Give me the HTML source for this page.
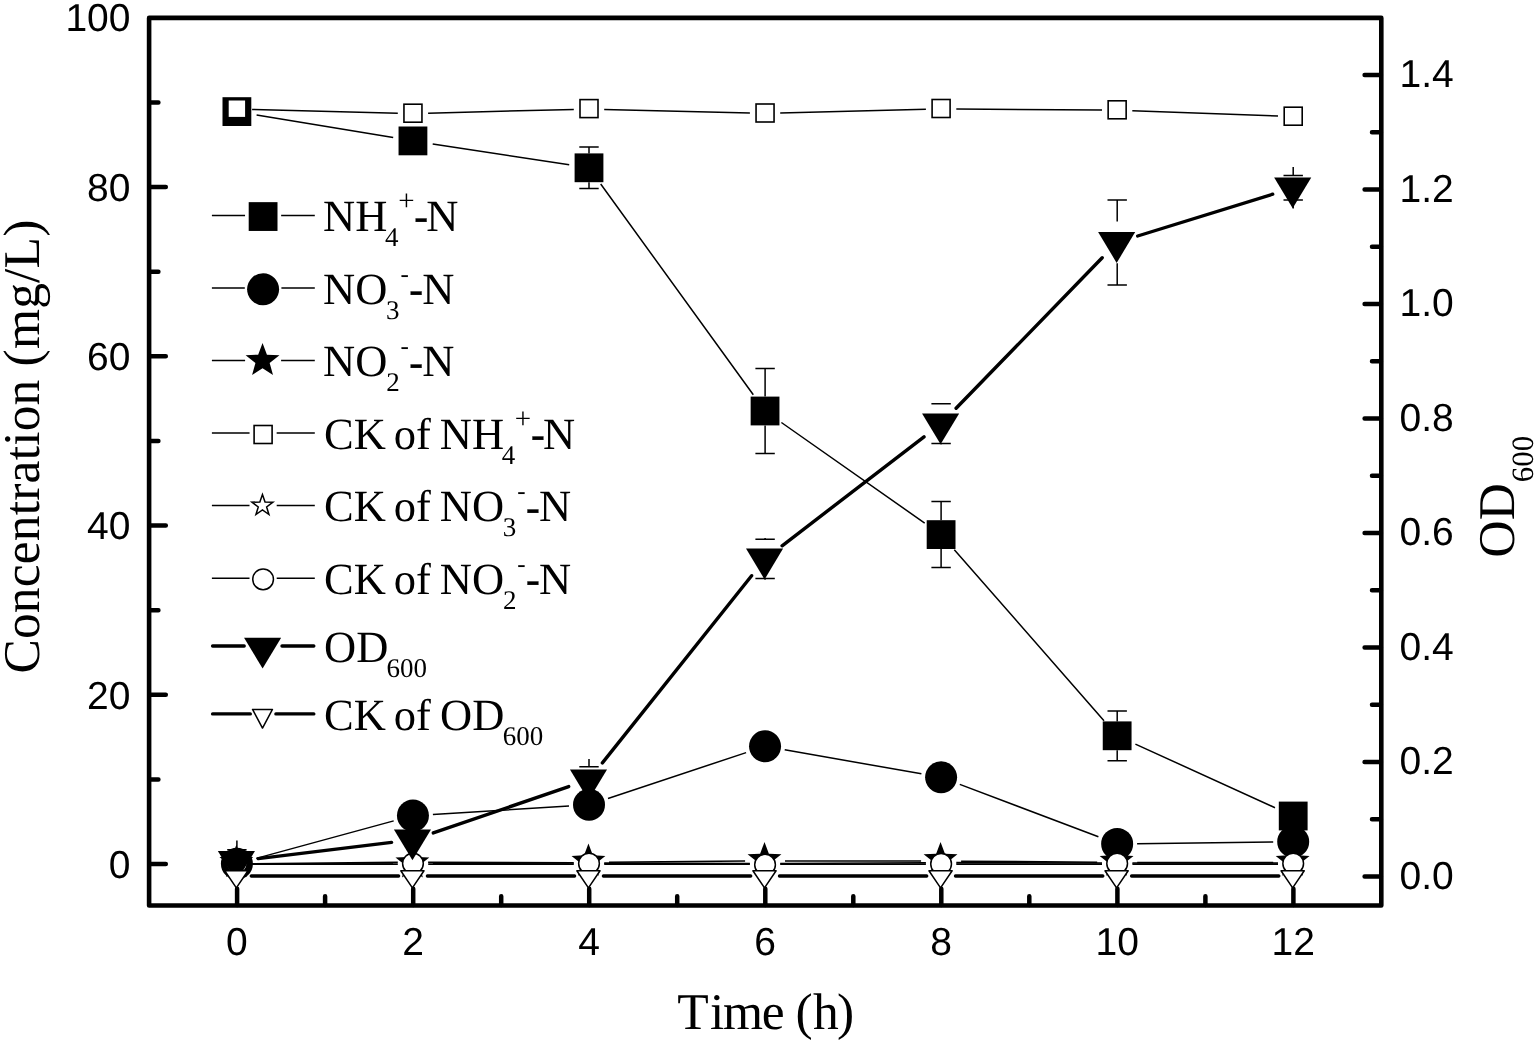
<!DOCTYPE html>
<html lang="en"><head><meta charset="utf-8"><title>Nitrogen concentration and OD600 over time</title>
<style>
html,body{margin:0;padding:0;background:#fff}
body{width:1535px;height:1045px;overflow:hidden}
svg{display:block}
.sb{font-size:27px}
.sp{font-size:29px}
.sh{font-size:25px}
.hy{font-family:"Liberation Sans",Arial,sans-serif;stroke:#000;stroke-width:.3px}
</style></head>
<body>
<svg width="1535" height="1045" viewBox="0 0 1535 1045" shape-rendering="geometricPrecision" text-rendering="geometricPrecision">
<rect width="1535" height="1045" fill="#fff"/>
<rect x="149.1" y="17.9" width="1232.2" height="887.6" fill="none" stroke="#000" stroke-width="4.6" stroke-linejoin="round"/>
<path d="M149.5 864.0h16.3 M149.5 779.4h8.9 M149.5 694.8h16.3 M149.5 610.2h8.9 M149.5 525.6h16.3 M149.5 440.9h8.9 M149.5 356.3h16.3 M149.5 271.7h8.9 M149.5 187.1h16.3 M149.5 102.5h8.9 M1380.8999999999999 876.6h-16.3 M1380.8999999999999 819.3h-8.9 M1380.8999999999999 762.1h-16.3 M1380.8999999999999 704.8h-8.9 M1380.8999999999999 647.6h-16.3 M1380.8999999999999 590.3h-8.9 M1380.8999999999999 533.0h-16.3 M1380.8999999999999 475.8h-8.9 M1380.8999999999999 418.5h-16.3 M1380.8999999999999 361.3h-8.9 M1380.8999999999999 304.0h-16.3 M1380.8999999999999 246.7h-8.9 M1380.8999999999999 189.5h-16.3 M1380.8999999999999 132.2h-8.9 M1380.8999999999999 75.0h-16.3 M237.1 905.1v-16.3 M325.1 905.1v-8.9 M413.2 905.1v-16.3 M501.2 905.1v-8.9 M589.2 905.1v-16.3 M677.2 905.1v-8.9 M765.3 905.1v-16.3 M853.3 905.1v-8.9 M941.3 905.1v-16.3 M1029.3 905.1v-8.9 M1117.4 905.1v-16.3 M1205.4 905.1v-8.9 M1293.4 905.1v-16.3" fill="none" stroke="#000" stroke-width="4.5" stroke-linecap="round"/>
<g font-family="Liberation Sans, Arial, sans-serif" font-size="39" fill="#000">
<text x="130.5" y="877.7" text-anchor="end">0</text>
<text x="130.5" y="708.5" text-anchor="end">20</text>
<text x="130.5" y="539.3" text-anchor="end">40</text>
<text x="130.5" y="370.0" text-anchor="end">60</text>
<text x="130.5" y="200.8" text-anchor="end">80</text>
<text x="130.5" y="30.7" text-anchor="end">100</text>
<text x="1399.6" y="888.6">0.0</text>
<text x="1399.6" y="774.1">0.2</text>
<text x="1399.6" y="659.6">0.4</text>
<text x="1399.6" y="545.0">0.6</text>
<text x="1399.6" y="430.5">0.8</text>
<text x="1399.6" y="316.0">1.0</text>
<text x="1399.6" y="201.5">1.2</text>
<text x="1399.6" y="87.0">1.4</text>
<text x="236.9" y="955.2" text-anchor="middle">0</text>
<text x="413.0" y="955.2" text-anchor="middle">2</text>
<text x="589.0" y="955.2" text-anchor="middle">4</text>
<text x="765.1" y="955.2" text-anchor="middle">6</text>
<text x="941.1" y="955.2" text-anchor="middle">8</text>
<text x="1117.2" y="955.2" text-anchor="middle">10</text>
<text x="1293.2" y="955.2" text-anchor="middle">12</text>
</g>
<g font-family="Liberation Serif, Times New Roman, serif" font-size="51.5" fill="#000">
<text transform="translate(38.9 673.61) rotate(-90)" textLength="453.98" lengthAdjust="spacing">Concentration (mg/L)</text>
<text x="677.17 709.92 723.02 761.79 784.65 795.44 813.10 837.04" y="1028.9">Time (h)</text>
<text transform="translate(1513.9 557.5) rotate(-90)">OD<tspan font-size="31" dx="0.8" dy="18.6">600</tspan></text>
</g>
<path d="M256.6 114.9L393.2 137.6 M432.7 143.9L569.2 164.8 M600.7 184.0L753.3 394.8 M781.4 422.5L924.7 523.1 M954.3 549.7L1104.0 720.7 M1135.4 744.1L1275.0 807.7" fill="none" stroke="#000" stroke-width="1.5" stroke-linecap="butt"/>
<path d="M579.3 147.0h19.4M579.3 188.6h19.4 M589.0 153.4V147.0M589.0 182.2V188.6 M755.4 368.4h19.4M755.4 453.6h19.4 M765.1 396.6V368.4M765.1 425.4V453.6 M931.4 501.6h19.4M931.4 567.6h19.4 M941.1 520.2V501.6M941.1 549.0V567.6 M1107.5 710.9h19.4M1107.5 760.7h19.4 M1117.2 721.4V710.9M1117.2 750.2V760.7" fill="none" stroke="#000" stroke-width="1.5"/>
<rect x="222.50" y="97.20" width="28.8" height="28.8" fill="#000"/>
<rect x="398.55" y="126.50" width="28.8" height="28.8" fill="#000"/>
<rect x="574.60" y="153.40" width="28.8" height="28.8" fill="#000"/>
<rect x="750.65" y="396.60" width="28.8" height="28.8" fill="#000"/>
<rect x="926.70" y="520.20" width="28.8" height="28.8" fill="#000"/>
<rect x="1102.75" y="721.40" width="28.8" height="28.8" fill="#000"/>
<rect x="1278.80" y="801.60" width="28.8" height="28.8" fill="#000"/>
<path d="M256.2 858.4L393.7 820.9 M432.9 814.4L569.0 806.0 M608.0 798.5L746.1 752.6 M784.7 749.8L921.4 773.8 M959.8 784.4L1098.4 836.8 M1137.1 843.7L1273.2 841.9" fill="none" stroke="#000" stroke-width="1.5" stroke-linecap="butt"/>
<circle cx="236.90" cy="863.70" r="16" fill="#000"/>
<circle cx="412.95" cy="815.60" r="16" fill="#000"/>
<circle cx="589.00" cy="804.80" r="16" fill="#000"/>
<circle cx="765.05" cy="746.30" r="16" fill="#000"/>
<circle cx="941.10" cy="777.30" r="16" fill="#000"/>
<circle cx="1117.15" cy="843.90" r="16" fill="#000"/>
<circle cx="1293.20" cy="841.70" r="16" fill="#000"/>
<path d="M256.9 863.7L393.0 864.0 M432.9 863.8L569.0 862.7 M609.0 862.3L745.1 861.0 M785.0 860.9L921.1 861.0 M961.1 861.2L1097.2 862.2 M1137.2 862.4L1273.2 862.4" fill="none" stroke="#000" stroke-width="1.5" stroke-linecap="butt"/>
<path d="M236.35 844.80L240.74 856.55L253.28 857.10L243.46 864.91L246.81 877.00L236.35 870.08L225.89 877.00L229.24 864.91L219.42 857.10L231.96 856.55Z" fill="#000"/>
<path d="M412.40 845.20L416.79 856.95L429.33 857.50L419.51 865.31L422.86 877.40L412.40 870.48L401.94 877.40L405.29 865.31L395.47 857.50L408.01 856.95Z" fill="#000"/>
<path d="M588.45 843.60L592.84 855.35L605.38 855.90L595.56 863.71L598.91 875.80L588.45 868.88L577.99 875.80L581.34 863.71L571.52 855.90L584.06 855.35Z" fill="#000"/>
<path d="M764.50 842.00L768.89 853.75L781.43 854.30L771.61 862.11L774.96 874.20L764.50 867.28L754.04 874.20L757.39 862.11L747.57 854.30L760.11 853.75Z" fill="#000"/>
<path d="M940.55 842.00L944.94 853.75L957.48 854.30L947.66 862.11L951.01 874.20L940.55 867.28L930.09 874.20L933.44 862.11L923.62 854.30L936.16 853.75Z" fill="#000"/>
<path d="M1116.60 843.60L1120.99 855.35L1133.53 855.90L1123.71 863.71L1127.06 875.80L1116.60 868.88L1106.14 875.80L1109.49 863.71L1099.67 855.90L1112.21 855.35Z" fill="#000"/>
<path d="M1292.65 843.60L1297.04 855.35L1309.58 855.90L1299.76 863.71L1303.11 875.80L1292.65 868.88L1282.19 875.80L1285.54 863.71L1275.72 855.90L1288.26 855.35Z" fill="#000"/>
<path d="M252.1 109.5L397.8 113.2 M428.1 113.2L573.8 109.4 M604.2 109.4L749.9 113.0 M780.2 113.0L925.9 109.3 M956.3 109.0L1102.0 110.1 M1132.3 110.8L1278.0 116.0" fill="none" stroke="#000" stroke-width="1.5" stroke-linecap="butt"/>
<rect x="227.90" y="99.70" width="18.0" height="18.0" fill="#fff" stroke="#000" stroke-width="1.6"/>
<rect x="403.95" y="104.20" width="18.0" height="18.0" fill="#fff" stroke="#000" stroke-width="1.6"/>
<rect x="580.00" y="99.60" width="18.0" height="18.0" fill="#fff" stroke="#000" stroke-width="1.6"/>
<rect x="756.05" y="104.00" width="18.0" height="18.0" fill="#fff" stroke="#000" stroke-width="1.6"/>
<rect x="932.10" y="99.50" width="18.0" height="18.0" fill="#fff" stroke="#000" stroke-width="1.6"/>
<rect x="1108.15" y="100.80" width="18.0" height="18.0" fill="#fff" stroke="#000" stroke-width="1.6"/>
<rect x="1284.20" y="107.20" width="18.0" height="18.0" fill="#fff" stroke="#000" stroke-width="1.6"/>
<path d="M252.1 863.8L397.8 862.3 M428.1 862.3L573.8 862.9 M604.2 863.1L749.9 863.5 M780.2 863.5L925.9 862.7 M956.3 862.6L1102.0 863.0 M1132.4 863.0L1278.0 863.0" fill="none" stroke="#000" stroke-width="1.6" stroke-linecap="butt"/>
<path d="M252.1 864.1L397.8 864.1 M428.2 864.1L573.8 864.1 M604.2 864.1L749.9 864.2 M780.2 864.2L925.9 864.1 M956.3 864.1L1102.0 864.1 M1132.4 864.1L1278.0 864.1" fill="none" stroke="#000" stroke-width="1.6" stroke-linecap="butt"/>
<circle cx="236.90" cy="863.50" r="10.35" fill="#fff" stroke="#000" stroke-width="1.5"/>
<circle cx="412.95" cy="863.50" r="10.35" fill="#fff" stroke="#000" stroke-width="1.5"/>
<circle cx="589.00" cy="863.50" r="10.35" fill="#fff" stroke="#000" stroke-width="1.5"/>
<circle cx="765.05" cy="864.70" r="10.35" fill="#fff" stroke="#000" stroke-width="1.5"/>
<circle cx="941.10" cy="863.90" r="10.35" fill="#fff" stroke="#000" stroke-width="1.5"/>
<circle cx="1117.15" cy="863.50" r="10.35" fill="#fff" stroke="#000" stroke-width="1.5"/>
<circle cx="1293.20" cy="863.50" r="10.35" fill="#fff" stroke="#000" stroke-width="1.5"/>
<path d="M258.2 858.6L391.6 842.4 M433.3 832.9L568.7 786.6 M602.4 762.9L751.6 575.7 M782.1 545.8L924.0 436.8 M956.1 408.3L1102.2 257.8 M1137.7 236.0L1272.7 194.2" fill="none" stroke="#000" stroke-width="3.4" stroke-linecap="round"/>
<path d="M227.2 849.7h19.4M227.2 872.7h19.4 M236.9 840.4V849.7M236.9 882.0V872.7 M579.3 766.8h19.4M579.3 792.6h19.4 M589.0 758.9V766.8M589.0 800.5V792.6 M755.4 539.3h19.4M755.4 578.5h19.4 M765.1 538.1V539.3M765.1 579.7V578.5 M931.4 403.8h19.4M931.4 443.6h19.4 M941.1 402.9V403.8M941.1 444.5V443.6 M1107.5 199.9h19.4M1107.5 284.9h19.4 M1117.2 221.6V199.9M1117.2 263.2V284.9 M1283.5 175.5h19.4M1283.5 200.1h19.4 M1293.2 167.0V175.5M1293.2 208.6V200.1" fill="none" stroke="#000" stroke-width="1.5"/>
<path d="M217.85 850.90h37.1L236.40 881.70Z" fill="#000"/>
<path d="M393.90 829.50h37.1L412.45 860.30Z" fill="#000"/>
<path d="M569.95 769.40h37.1L588.50 800.20Z" fill="#000"/>
<path d="M746.00 548.60h37.1L764.55 579.40Z" fill="#000"/>
<path d="M922.05 413.40h37.1L940.60 444.20Z" fill="#000"/>
<path d="M1098.10 232.10h37.1L1116.65 262.90Z" fill="#000"/>
<path d="M1274.15 177.50h37.1L1292.70 208.30Z" fill="#000"/>
<path d="M251.3 876.0L398.6 876.0 M427.4 876.0L574.6 876.0 M603.4 876.0L750.7 876.0 M779.5 876.0L926.7 876.0 M955.5 876.0L1102.8 876.0 M1131.6 876.0L1278.8 876.0" fill="none" stroke="#000" stroke-width="3.4" stroke-linecap="round"/>
<path d="M224.75 870.75h23.2L236.35 887.90Z" fill="#fff" stroke="#000" stroke-width="1.5" stroke-linejoin="round"/>
<path d="M400.80 870.75h23.2L412.40 887.90Z" fill="#fff" stroke="#000" stroke-width="1.5" stroke-linejoin="round"/>
<path d="M576.85 870.75h23.2L588.45 887.90Z" fill="#fff" stroke="#000" stroke-width="1.5" stroke-linejoin="round"/>
<path d="M752.90 870.75h23.2L764.50 887.90Z" fill="#fff" stroke="#000" stroke-width="1.5" stroke-linejoin="round"/>
<path d="M928.95 870.75h23.2L940.55 887.90Z" fill="#fff" stroke="#000" stroke-width="1.5" stroke-linejoin="round"/>
<path d="M1105.00 870.75h23.2L1116.60 887.90Z" fill="#fff" stroke="#000" stroke-width="1.5" stroke-linejoin="round"/>
<path d="M1281.05 870.75h23.2L1292.65 887.90Z" fill="#fff" stroke="#000" stroke-width="1.5" stroke-linejoin="round"/>
<path d="M211.9 215.45H245.05M281.15 215.45H314.8" fill="none" stroke="#000" stroke-width="1.5"/>
<rect x="248.70" y="202.15" width="28.8" height="28.8" fill="#000"/>
<text font-family="Liberation Serif, Times New Roman, serif" font-size="44.5" fill="#000"><tspan x="323.12" y="230.90">NH</tspan><tspan class="sb" x="384.97" y="245.70">4</tspan><tspan class="sp" x="398.16" y="209.80">+</tspan><tspan class="hy" x="413.72" y="232.10">-</tspan><tspan x="426.22" y="230.90">N</tspan></text>
<path d="M211.9 287.9H244.80M281.40 287.9H314.8" fill="none" stroke="#000" stroke-width="1.5"/>
<circle cx="263.10" cy="289.25" r="16" fill="#000"/>
<text font-family="Liberation Serif, Times New Roman, serif" font-size="44.5" fill="#000"><tspan x="323.12" y="303.90">NO</tspan><tspan class="sb" x="386.11" y="318.70">3</tspan><tspan class="sh" x="400.47" y="281.60">-</tspan><tspan class="hy" x="408.82" y="305.10">-</tspan><tspan x="422.32" y="303.90">N</tspan></text>
<path d="M211.9 360.5H245.10M281.10 360.5H314.8" fill="none" stroke="#000" stroke-width="1.5"/>
<path d="M262.55 342.90L266.94 354.65L279.48 355.20L269.66 363.01L273.01 375.10L262.55 368.18L252.09 375.10L255.44 363.01L245.62 355.20L258.16 354.65Z" fill="#000"/>
<text font-family="Liberation Serif, Times New Roman, serif" font-size="44.5" fill="#000"><tspan x="323.12" y="376.40">NO</tspan><tspan class="sb" x="386.21" y="391.20">2</tspan><tspan class="sh" x="400.47" y="354.10">-</tspan><tspan class="hy" x="408.82" y="377.60">-</tspan><tspan x="422.32" y="376.40">N</tspan></text>
<path d="M211.9 433.1H249.55M276.65 433.1H314.8" fill="none" stroke="#000" stroke-width="1.5"/>
<rect x="254.10" y="425.50" width="18.0" height="18.0" fill="#fff" stroke="#000" stroke-width="1.6"/>
<text font-family="Liberation Serif, Times New Roman, serif" font-size="44.5" fill="#000"><tspan x="324.07" y="448.80">CK </tspan><tspan x="393.71" y="448.80">of </tspan><tspan x="439.82" y="448.80">NH</tspan><tspan class="sb" x="501.67" y="463.60">4</tspan><tspan class="sp" x="514.86" y="427.70">+</tspan><tspan class="hy" x="530.42" y="450.00">-</tspan><tspan x="542.92" y="448.80">N</tspan></text>
<path d="M211.9 505.6H249.50M276.70 505.6H314.8" fill="none" stroke="#000" stroke-width="1.5"/>
<path d="M262.45 494.60L265.04 502.04L272.91 502.20L266.63 506.96L268.92 514.50L262.45 510.00L255.98 514.50L258.27 506.96L251.99 502.20L259.86 502.04Z" fill="#fff" stroke="#000" stroke-width="1.5" stroke-linejoin="miter"/>
<text font-family="Liberation Serif, Times New Roman, serif" font-size="44.5" fill="#000"><tspan x="324.07" y="521.30">CK </tspan><tspan x="393.71" y="521.30">of </tspan><tspan x="439.82" y="521.30">NO</tspan><tspan class="sb" x="502.81" y="536.10">3</tspan><tspan class="sh" x="517.17" y="499.00">-</tspan><tspan class="hy" x="525.52" y="522.50">-</tspan><tspan x="539.02" y="521.30">N</tspan></text>
<path d="M211.9 578.3H249.50M276.70 578.3H314.8" fill="none" stroke="#000" stroke-width="1.5"/>
<circle cx="263.10" cy="579.30" r="10.35" fill="#fff" stroke="#000" stroke-width="1.5"/>
<text font-family="Liberation Serif, Times New Roman, serif" font-size="44.5" fill="#000"><tspan x="324.07" y="593.90">CK </tspan><tspan x="393.71" y="593.90">of </tspan><tspan x="439.82" y="593.90">NO</tspan><tspan class="sb" x="502.91" y="608.70">2</tspan><tspan class="sh" x="517.17" y="571.60">-</tspan><tspan class="hy" x="525.52" y="595.10">-</tspan><tspan x="539.02" y="593.90">N</tspan></text>
<path d="M212.6 646.0H244.20M282.00 646.0H313.8" fill="none" stroke="#000" stroke-width="3.4" stroke-linecap="round"/>
<path d="M244.05 637.70h37.1L262.60 668.50Z" fill="#000"/>
<text font-family="Liberation Serif, Times New Roman, serif" font-size="44.5" fill="#000"><tspan x="324.07" y="661.90">OD</tspan><tspan class="sb" x="386.44" y="676.60">600</tspan></text>
<path d="M212.6 713.9H250.30M275.90 713.9H313.8" fill="none" stroke="#000" stroke-width="3.4" stroke-linecap="round"/>
<path d="M252.55 709.45h19.9L262.50 728.05Z" fill="#fff" stroke="#000" stroke-width="1.5" stroke-linejoin="round"/>
<text font-family="Liberation Serif, Times New Roman, serif" font-size="44.5" fill="#000"><tspan x="324.07" y="729.90">CK </tspan><tspan x="393.71" y="729.90">of </tspan><tspan x="440.07" y="729.90">OD</tspan><tspan class="sb" x="502.64" y="744.60">600</tspan></text>
</svg>
</body></html>
